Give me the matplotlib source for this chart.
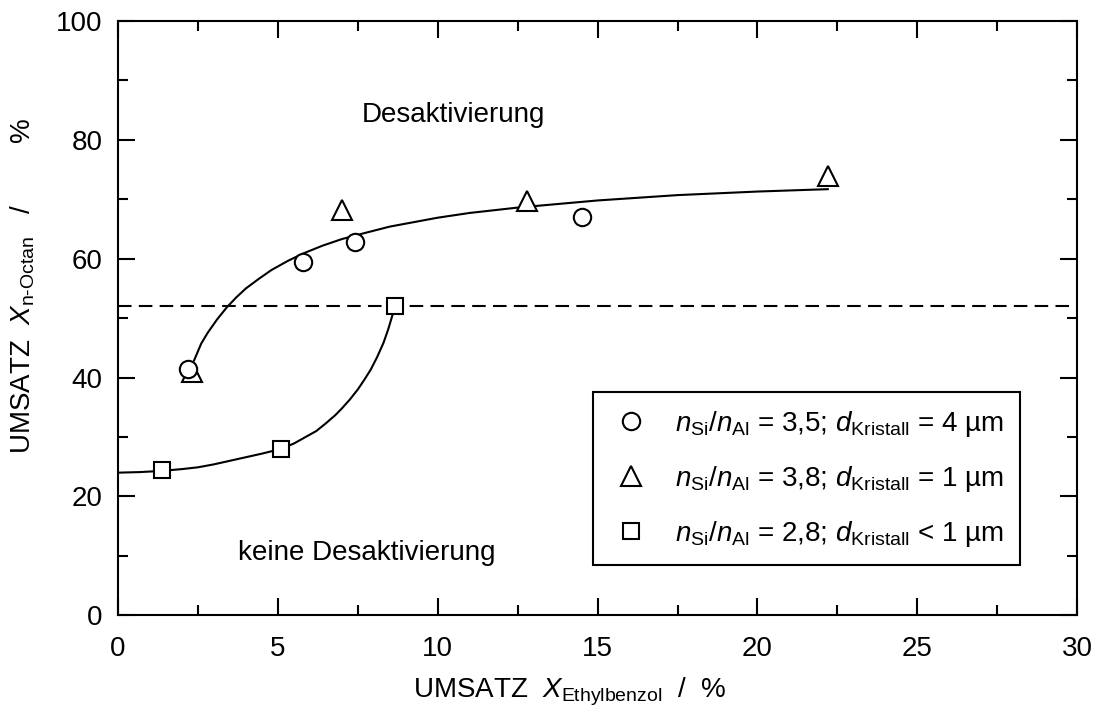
import numpy as np
import matplotlib
matplotlib.use("Agg")
import matplotlib.pyplot as plt
from matplotlib.ticker import MultipleLocator

plt.rcParams['font.family'] = ['Liberation Sans', 'DejaVu Sans']
plt.rcParams['mathtext.fontset'] = 'custom'
plt.rcParams['mathtext.rm'] = 'Liberation Sans'
plt.rcParams['mathtext.it'] = 'Liberation Sans:italic'
plt.rcParams['font.size'] = 20

# Messpunkte: Umsatz Ethylbenzol / Umsatz n-Octan (%)
x_kreis = [2.2, 5.8, 7.4, 14.5]
y_kreis = [41.5, 59.5, 62.8, 67.0]
x_dreieck = [2.3, 7.0, 12.8, 22.2]
y_dreieck = [41.0, 68.2, 69.7, 73.9]
x_quadrat = [1.37, 5.1, 8.66]
y_quadrat = [24.4, 28.0, 52.0]

x_kurve_oben = [2.38, 2.6, 2.8, 3.1, 3.4, 3.7, 4.0, 4.4, 4.8, 5.3, 5.8, 6.4, 7.0, 7.7,
                8.5, 9.2, 10.0, 11.0, 12.5, 15.0, 17.5, 20.0, 22.2]
y_kurve_oben = [42.9, 45.7, 47.5, 49.8, 51.8, 53.5, 55.0, 56.6, 58.1, 59.6, 60.9, 62.2, 63.3, 64.3,
                65.4, 66.1, 66.9, 67.7, 68.6, 69.8, 70.7, 71.3, 71.7]
x_kurve_unten = [0.0, 0.7, 1.37, 2.0, 2.5, 3.0, 3.5, 4.0, 4.5, 5.1, 5.5, 5.8, 6.2, 6.5, 6.8,
                 7.0, 7.25, 7.5, 7.7, 7.9, 8.1, 8.3, 8.45, 8.6]
y_kurve_unten = [24.0, 24.1, 24.3, 24.6, 24.9, 25.4, 26.0, 26.6, 27.2, 28.0, 28.9, 29.8, 31.0, 32.3, 33.7,
                 34.8, 36.3, 38.0, 39.6, 41.3, 43.4, 45.8, 48.1, 50.8]

grenze = 52.0

labels = [r"$n_{\mathrm{Si}}/n_{\mathrm{Al}}$ = 3,5; $d_{\mathrm{Kristall}}$ = 4 µm",
          r"$n_{\mathrm{Si}}/n_{\mathrm{Al}}$ = 3,8; $d_{\mathrm{Kristall}}$ = 1 µm",
          r"$n_{\mathrm{Si}}/n_{\mathrm{Al}}$ = 2,8; $d_{\mathrm{Kristall}}$ < 1 µm"]

fig = plt.figure(figsize=(10.98, 7.11), dpi=100)
ax = fig.add_axes([0.1075, 0.1346, 0.8735, 0.8359])

ax.plot(x_kurve_oben, y_kurve_oben, color='black', lw=1.5, zorder=2)
ax.plot(x_kurve_unten, y_kurve_unten, color='black', lw=1.5, zorder=2)
ax.axhline(grenze, color='black', lw=1.5, dashes=(6.5, 3.5), zorder=1)

mk = dict(color='none', mfc='white', mec='black', mew=1.5, ls='none', zorder=3)
ax.plot(x_dreieck, y_dreieck, marker='^', ms=14, label=labels[1], **mk)
ax.plot(x_kreis, y_kreis, marker='o', ms=12.5, label=labels[0], **mk)
ax.plot(x_quadrat, y_quadrat, marker='s', ms=11.5, label=labels[2], **mk)

ax.text(10.5, 84.2, "Desaktivierung", ha='center', va='center', fontsize=20)
ax.text(7.77, 10.5, "keine Desaktivierung", ha='center', va='center', fontsize=20)

ax.set_xlim(0, 30)
ax.set_ylim(0, 100)
ax.xaxis.set_major_locator(MultipleLocator(5))
ax.xaxis.set_minor_locator(MultipleLocator(2.5))
ax.yaxis.set_major_locator(MultipleLocator(20))
ax.yaxis.set_minor_locator(MultipleLocator(10))
ax.tick_params(which='both', direction='in', top=True, right=True, width=1.5, labelsize=20)
ax.tick_params(which='major', length=12.5)
ax.tick_params(which='minor', length=7)
ax.tick_params(axis='x', pad=15)
ax.tick_params(axis='y', pad=11)
for s in ax.spines.values():
    s.set_linewidth(1.5)

ax.set_xlabel(r"UMSATZ  $X_{\mathrm{Ethylbenzol}}$  /  %", fontsize=20)
ax.xaxis.set_label_coords(0.471, -0.102)
ax.set_ylabel(r"UMSATZ  $X_{\mathrm{n\text{-}Octan}}$   /        %", fontsize=20)
ax.yaxis.set_label_coords(-0.085, 0.555)

h, l = ax.get_legend_handles_labels()
order = [1, 0, 2]
leg = ax.legend([h[i] for i in order], [l[i] for i in order],
                loc='upper left', bbox_to_anchor=(0.4953, 0.3757), borderaxespad=0,
                fancybox=False, edgecolor='black', framealpha=1,
                handlelength=1.5, handletextpad=0.85, borderpad=0.6, labelspacing=0.9,
                fontsize=20)
leg.get_frame().set_linewidth(1.5)

fig.savefig("out.png", dpi=100)
